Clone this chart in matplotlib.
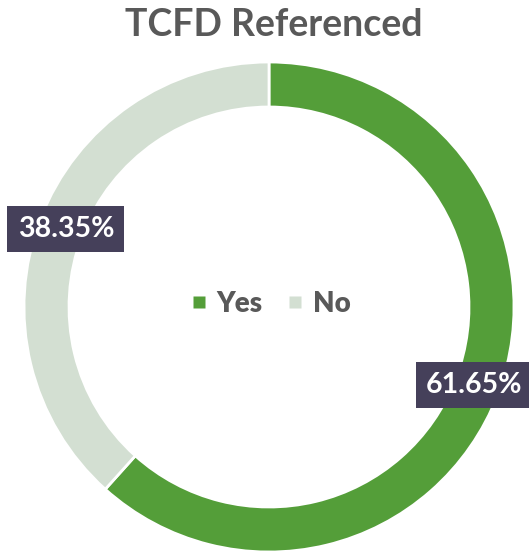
import matplotlib
matplotlib.use("Agg")
import matplotlib.pyplot as plt
from matplotlib.lines import Line2D
import numpy as np

categories = ["Yes", "No"]
values = [61.65, 38.35]
labels = ["61.65%", "38.35%"]
colors = ["#549E39", "#D3DFD2"]

W, H = 529, 553
fig = plt.figure(figsize=(W / 100, H / 100), dpi=100)
ax = fig.add_axes([0, 0, 1, 1])
cx, cy = 269, 246
R = 245
width = 45

wedges, _ = ax.pie(values, colors=colors, startangle=90, counterclock=False,
                   radius=R, center=(cx, cy),
                   wedgeprops=dict(width=width, edgecolor="white", linewidth=2))
ax.set_xlim(0, W)
ax.set_ylim(0, H)
ax.axis("off")

font = ["Lato", "DejaVu Sans"]
total = sum(values)
start = 90.0
for v, lab in zip(values, labels):
    ang = np.deg2rad(start - v / total * 360 / 2)
    start -= v / total * 360
    r = R - width / 2 - 4
    x = cx + r * np.cos(ang)
    y = cy + r * np.sin(ang)
    ax.text(x + 1, y, lab, ha="center", va="center", color="white", fontsize=20.5,
            fontweight="bold", family=font,
            bbox=dict(boxstyle="square,pad=0.36", fc="#45405A", ec="none"))

fig.text(274 / W, 1 - 25 / H, "TCFD Referenced", ha="center", va="center",
         fontsize=27, fontweight="bold", color="#595959", family=font)

handles = [Line2D([], [], marker="s", linestyle="none", markersize=8.5,
                  markerfacecolor=c, markeredgecolor="none") for c in colors]
leg = ax.legend(handles, categories, loc="center", bbox_to_anchor=(269 / W, 1 - 304 / H),
                bbox_transform=fig.transFigure, ncol=2, frameon=False,
                handletextpad=0.25, columnspacing=0.75, handlelength=0.8,
                prop=dict(family=font, weight="heavy", size=20))
for t in leg.get_texts():
    t.set_color("#595959")

fig.savefig("out.png", dpi=100)
